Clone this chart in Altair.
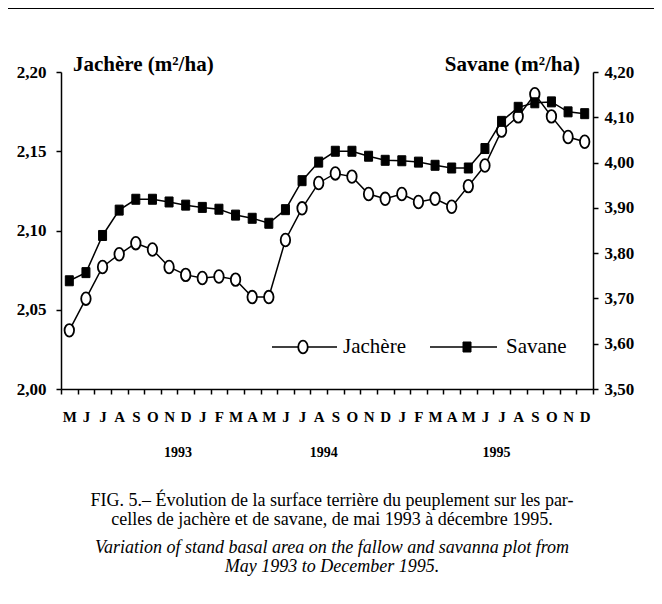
import altair as alt
import pandas as pd

# ---- data ----
months = ["1993-05", "1993-06", "1993-07", "1993-08", "1993-09", "1993-10", "1993-11", "1993-12",
          "1994-01", "1994-02", "1994-03", "1994-04", "1994-05", "1994-06", "1994-07", "1994-08",
          "1994-09", "1994-10", "1994-11", "1994-12", "1995-01", "1995-02", "1995-03", "1995-04",
          "1995-05", "1995-06", "1995-07", "1995-08", "1995-09", "1995-10", "1995-11", "1995-12"]
jachere = [2.037, 2.057, 2.077, 2.085, 2.092, 2.088, 2.077, 2.072, 2.070, 2.071, 2.069, 2.058,
           2.058, 2.094, 2.114, 2.130, 2.136, 2.134, 2.123, 2.120, 2.123, 2.118, 2.120, 2.115,
           2.128, 2.141, 2.163, 2.172, 2.186, 2.172, 2.159, 2.156]
savane = [3.739, 3.757, 3.839, 3.895, 3.919, 3.919, 3.913, 3.906, 3.901, 3.897, 3.884, 3.877,
          3.866, 3.896, 3.960, 4.001, 4.025, 4.025, 4.014, 4.005, 4.004, 4.001, 3.994, 3.988,
          3.988, 4.031, 4.091, 4.122, 4.132, 4.134, 4.112, 4.108]
left_ticks = [2.00, 2.05, 2.10, 2.15, 2.20]
right_ticks = [3.50, 3.60, 3.70, 3.80, 3.90, 4.00, 4.10, 4.20]
years = ["1993", "1994", "1995"]
year_anchor = ["1993-11", "1994-08", "1995-07"]
year_dx = [9, 5, -5]
caption = [
    ("FIG. 5.– Évolution de la surface terrière du peuplement sur les par-", "normal"),
    ("celles de jachère et de savane, de mai 1993 à décembre 1995.", "normal"),
    ("Variation of stand basal area on the fallow and savanna plot from", "italic"),
    ("May 1993 to December 1995.", "italic"),
]

df = pd.DataFrame({"month": months, "jachere": jachere, "savane": savane})
one = pd.DataFrame({"a": [0]})

SERIF = "Liberation Serif"
ELLIPSE = "M0,-1A0.75,1,0,1,1,0,1A0.75,1,0,1,1,0,-1Z"
RECT = "M-0.8,-1H0.8V1H-0.8Z"

month_expr = ("['J','F','M','A','M','J','J','A','S','O','N','D']"
              "[toNumber(substring(datum.value, 5, 7)) - 1]")
num_expr = "replace(format(datum.value, '.2f'), '.', ',')"

x_enc = alt.X("month:O", sort=months,
              scale=alt.Scale(type="band", paddingInner=0, paddingOuter=0),
              axis=alt.Axis(title=None, labelExpr=month_expr, tickBand="extent",
                            labelAngle=0, labelFontSize=15, labelPadding=15))

yl = alt.Y("jachere:Q", scale=alt.Scale(domain=[2.0, 2.2], zero=False, nice=False),
           axis=alt.Axis(title=None, orient="left", values=left_ticks, labelExpr=num_expr,
                         labelPadding=10))
yr = alt.Y("savane:Q", scale=alt.Scale(domain=[3.5, 4.2], zero=False, nice=False),
           axis=alt.Axis(title=None, orient="right", values=right_ticks, labelExpr=num_expr,
                         labelPadding=6))

base = alt.Chart(df)
left = alt.layer(
    base.mark_line(color="black", strokeWidth=1.5).encode(x=x_enc, y=yl),
    base.mark_point(shape=ELLIPSE, size=160, filled=True, fill="white", stroke="black",
                    strokeWidth=1.8, opacity=1).encode(x=x_enc, y=yl),
)
right = alt.layer(
    base.mark_line(color="black", strokeWidth=1.5).encode(x=x_enc, y=yr),
    base.mark_point(shape=RECT, size=100, filled=True, fill="black", stroke="black",
                    strokeWidth=1, opacity=1).encode(x=x_enc, y=yr),
)

ann = alt.Chart(one)
layers = []
# axis titles
layers.append(ann.mark_text(text="Jachère (m²/ha)", font=SERIF, fontWeight="bold", fontSize=21,
                            align="left", baseline="alphabetic", color="black")
              .encode(x=alt.value(12), y=alt.value(-1)))
layers.append(ann.mark_text(text="Savane (m²/ha)", font=SERIF, fontWeight="bold", fontSize=21,
                            align="right", baseline="alphabetic", color="black")
              .encode(x=alt.value(519), y=alt.value(-1)))
# legend
layers.append(ann.mark_rule(color="black", strokeWidth=1.5)
              .encode(x=alt.value(211), x2=alt.value(276), y=alt.value(275)))
layers.append(ann.mark_point(shape=ELLIPSE, size=160, filled=True, fill="white", stroke="black",
                             strokeWidth=1.8, opacity=1)
              .encode(x=alt.value(242), y=alt.value(275)))
layers.append(ann.mark_text(text="Jachère", font=SERIF, fontSize=21, align="left",
                            baseline="middle", color="black")
              .encode(x=alt.value(282), y=alt.value(275)))
layers.append(ann.mark_rule(color="black", strokeWidth=1.5)
              .encode(x=alt.value(369), x2=alt.value(436), y=alt.value(275)))
layers.append(ann.mark_point(shape=RECT, size=100, filled=True, fill="black", stroke="black",
                             strokeWidth=1, opacity=1)
              .encode(x=alt.value(406), y=alt.value(275)))
layers.append(ann.mark_text(text="Savane", font=SERIF, fontSize=21, align="left",
                            baseline="middle", color="black")
              .encode(x=alt.value(445), y=alt.value(275)))
# year labels
for yr_txt, anc, dx in zip(years, year_anchor, year_dx):
    layers.append(alt.Chart(pd.DataFrame({"month": [anc], "t": [yr_txt]}))
                  .mark_text(font=SERIF, fontWeight="bold", fontSize=14, baseline="middle",
                             align="center", dx=dx, color="black")
                  .encode(x=x_enc, y=alt.value(381), text="t:N"))
# caption
cap_y = [429, 448, 476, 495]
for (txt, style), cy in zip(caption, cap_y):
    layers.append(ann.mark_text(text=txt, font=SERIF, fontSize=18, fontStyle=style,
                                align="center", baseline="middle", color="black")
                  .encode(x=alt.value(271), y=alt.value(cy)))
# frame
layers.append(ann.mark_rule(color="black", strokeWidth=2)
              .encode(x=alt.value(-61), x2=alt.value(597), y=alt.value(-64)))
layers.append(ann.mark_rule(color="black", strokeWidth=2)
              .encode(x=alt.value(597), y=alt.value(-64), y2=alt.value(532)))

chart = (
    alt.layer(left, right, *layers)
    .resolve_scale(y="independent")
    .properties(width=532, height=317,
                autosize=alt.AutoSizeParams(type="none"),
                padding={"left": 53, "top": 64, "right": 61, "bottom": 207},
                background="white")
    .configure_view(stroke=None)
    .configure_axis(grid=False, domainColor="black", domainWidth=1.5, tickColor="black",
                    tickWidth=1.5, tickSize=5, labelFont=SERIF, labelFontWeight="bold",
                    labelFontSize=17, labelColor="black")
)

chart.save("out.html", embed_options={"renderer": "svg", "actions": False})
